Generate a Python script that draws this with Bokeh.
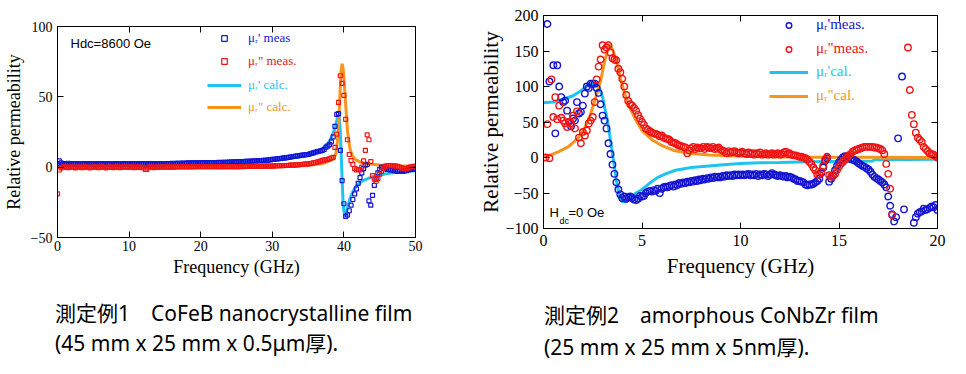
from bokeh.plotting import figure
from bokeh.models import Range1d, LinearAxis, FixedTicker, Label, Legend, LegendItem, Div
from bokeh.layouts import row, column
from bokeh.embed import file_html
from bokeh.resources import INLINE

nan = float("nan")

# ---------------- Chart 1 : CoFeB nanocrystalline film ----------------
F1 = [i * 0.25 for i in range(201)]  # measurement frequencies, GHz
MU1_RE_MEAS = [
    2.5, 4.5, 3.0, 2.0, 2.5, 2.2, 2.8, 2.4, 2.3, 2.5, 2.4, 2.3, 2.5, 2.4, 2.3, 2.5, 2.4, 2.3, 2.5, 2.4,
    2.4, 2.3, 2.5, 2.4, 2.3, 2.5, 2.4, 2.3, 2.5, 2.4, 2.4, 2.3, 2.5, 2.4, 2.3, 2.5, 2.4, 2.3, 2.5, 2.4,
    2.3, 2.4, 2.5, 2.3, 2.4, 2.5, 2.3, 2.4, 2.5, 2.3, 2.4, 2.5, 2.3, 2.4, 2.5, 2.3, 2.4, 2.5, 2.4, 2.5,
    2.5, 2.6, 2.5, 2.6, 2.7, 2.6, 2.7, 2.8, 2.7, 2.8, 2.9, 2.8, 2.9, 3.0, 2.9, 3.0, 3.1, 3.0, 3.0, 3.1,
    3.1, 3.1, 3.2, 3.1, 3.2, 3.2, 3.3, 3.2, 3.3, 3.3, 3.4, 3.3, 3.4, 3.4, 3.5, 3.5, 3.6, 3.6, 3.7, 3.7,
    3.8, 3.8, 3.9, 3.9, 4.0, 4.1, 4.1, 4.2, 4.3, 4.3, 4.4, 4.5, 4.6, 4.6, 4.7, 4.8, 4.9, 5.0, 5.1, 5.2,
    5.5, 5.6, 5.8, 5.9, 6.1, 6.2, 6.4, 6.6, 6.8, 7.0, 7.2, 7.4, 7.6, 7.8, 8.0, 8.2, 8.4, 8.6, 8.8, 8.9,
    9.0, 9.4, 9.8, 10.2, 10.6, 11.0, 11.3, 11.6, 12.0, 12.6, 14.2, 15.0, 16.0, 18.0, 21.5, 29.0, 37.5, 38.0, 12.0, -9.5,
    -26.0, -35.0, -34.0, -31.0, -27.0, -23.0, -19.0, -15.5, -11.5, -7.5, -4.0, -1.0, 1.5, 2.0, -24.0, -27.0, -20.0, -13.0, -8.5, -4.0,
    -1.5, 0.0, -0.5, -1.0, -1.5, -1.5, -2.0, -2.0, -2.5, -2.5, -3.0, -3.0, -3.0, -3.0, -2.5, -2.5, -2.0, -1.5, -1.5, -1.0,
    -1.0,
]
MU1_IM_MEAS = [
    -19.0, -2.0, -0.5, 0.0, 0.2, 0.0, -0.3, 0.0, 0.2, 0.0, -0.5, 0.0, 0.2, 0.0, -0.3, 0.0, 0.2, 0.0, -0.5, 0.0,
    0.0, 0.2, 0.0, -0.3, 0.0, 0.2, 0.0, -0.5, 0.0, 0.2, 0.0, -0.3, 0.0, 0.2, 0.0, -0.3, 0.0, 0.2, 0.0, 0.0,
    0.0, 0.2, 0.0, -0.3, 0.0, 0.2, 0.0, -0.3, 0.0, -1.5, -1.5, 0.0, 0.2, 0.0, -0.3, 0.0, 0.2, 0.0, 0.0, 0.2,
    0.2, 0.0, 0.2, 0.0, 0.2, 0.0, 0.2, 0.3, 0.2, 0.3, 0.2, 0.3, 0.2, 0.3, 0.2, 0.3, 0.2, 0.3, 0.3, 0.3,
    0.3, 0.3, 0.3, 0.3, 0.3, 0.3, 0.3, 0.3, 0.3, 0.3, 0.3, 0.4, 0.3, 0.4, 0.3, 0.4, 0.4, 0.4, 0.4, 0.4,
    0.4, 0.4, 0.4, 0.5, 0.4, 0.5, 0.5, 0.5, 0.5, 0.5, 0.5, 0.6, 0.6, 0.6, 0.6, 0.7, 0.7, 0.7, 0.8, 0.8,
    0.8, 0.9, 0.9, 1.0, 1.0, 1.1, 1.1, 1.2, 1.2, 1.3, 1.4, 1.4, 1.5, 1.6, 1.7, 1.8, 1.9, 2.0, 2.1, 2.2,
    2.4, 2.6, 2.8, 3.0, 3.3, 3.6, 4.0, 4.4, 4.8, 5.0, 5.3, 5.5, 6.0, 6.5, 7.0, 14.0, 23.5, 46.0, 65.0, 59.5,
    51.0, 34.0, 19.5, 9.0, 4.7, 2.0, -1.0, -2.0, -1.5, -2.0, 0.0, 4.5, 12.0, 23.0, 19.5, 4.0, -6.0, -8.5, -10.0, -8.0,
    -5.0, -3.0, -1.0, 0.5, 1.0, 1.2, 1.2, 1.0, 1.0, 0.8, 0.5, 0.0, -0.5, -0.8, -1.0, -1.0, -0.5, 0.0, 0.3, 0.5,
    0.5,
]
F1_CALC_RE = [0, 5, 10, 15, 20, 25, 28, 30, 32, 34, 35, 36, 37, 37.5, 38, 38.5, 38.8, 39.0, 39.2, 39.35,
              39.5, 39.6, 39.7, 39.8, 39.9, 40.0, 40.1, 40.2, 40.4, 40.6, 40.8, 41.1, 41.4, 41.8, 42.2,
              42.7, 43.5, 44.1, 45, 46.5, 48, 50]
MU1_RE_CALC = [2.5, 2.5, 2.6, 2.8, 3.1, 3.7, 4.3, 5.0, 6.0, 7.6, 8.8, 10.3, 13.0, 15.5, 18.5, 24.0, 29.0,
               33.0, 36.5, 37.5, 25.0, 12.0, -2.0, -15.0, -26.0, -31.0, -34.0, -35.0, -31.0, -27.0, -23.0,
               -19.0, -16.0, -13.0, -11.0, -9.5, -7.8, -6.6, -5.5, -4.2, -3.4, -2.6]
F1_CALC_IM = [0, 10, 20, 25, 30, 32, 34, 35, 36, 37, 37.5, 38, 38.6, 38.9, 39.1, 39.3, 39.45, 39.6, 39.75,
              39.9, 40.05, 40.2, 40.35, 40.5, 40.7, 40.9, 41.2, 41.6, 42.2, 43, 44, 45, 46, 47.5, 50]
MU1_IM_CALC = [0.0, 0.1, 0.2, 0.3, 0.5, 0.7, 1.0, 1.3, 1.8, 2.6, 3.5, 4.5, 6.0, 10.0, 19.0, 33.0, 52.0, 68.0,
               73.5, 70.0, 60.0, 48.0, 37.0, 26.0, 18.0, 12.0, 8.0, 5.5, 3.8, 2.8, 2.0, 1.6, 1.3, 1.0, 0.6]
X1_TICKS = [0, 10, 20, 30, 40, 50]
Y1_TICKS = [-50, 0, 50, 100]
CAPTION1 = ["測定例1\u3000CoFeB nanocrystalline film", "(45 mm x 25 mm x 0.5μm厚)."]

# ---------------- Chart 2 : amorphous CoNbZr film ----------------
F2 = [i / 10 for i in range(1, 201)]  # measurement frequencies, GHz
MU2_RE_MEAS = [
    nan, 188, 107, nan, 130, 34, 130, 100, 85, 78, 80, 66, 50, 44, 55, 52, 78, 62, 64, 73,
    90, 100, 98, 104, 104, 104, 98, 91, 75, 59, 52, 41, 20, 5, -10, -23, -35, -45, -52, -57,
    -55, -58, -56, -55, -57, -59, -60, -58, -54, -55, -54, -50, -48, -47, -48, -46, -47, -44, -50, -44,
    -42, -41, -42, -40, -39, -41, -38, -39, -36, -37, -35, -36, -34, -35, -33, -34, -32, -33, -31, -32,
    -30, -31, -29, -30, -28, -29, -27, -28, -27, -28, -26, -27, -25, -26, -25, -26, -24, -25, -24, -25,
    -24, -25, -24, -23, -25, -24, -25, -23, -26, -24, -25, -23, -24, -26, -24, -22, -24, -25, -26, -25,
    -26, -27, -26, -28, -27, -28, -30, -31, -33, -33, -34, -35, -38, -39, -38, -38, -37, -35, -33, -30,
    -22, -14, -5, -1, -34, -30, -25, -18, -12, -7, -3, 0, 2, 1, 0, -2, -3, -4, -6, -8,
    -10, -12, -13, -15, -17, -20, -24, -27, -29, -31, -33, -35, -38, -42, -55, -68, -80, -90, -84, 27,
    nan, 114, -73, nan, nan, nan, nan, -92, -84, -79, -77, -76, -72, -74, -73, -71, -69, -70, -67, -74,
]
MU2_IM_MEAS = [
    0, 47, -1, 110, 57, 85, 54, 73, 56, 52, 48, 43, 50, 48, 59, 41, 65, 28, 20, 36,
    31, 38, 48, 52, 57, 78, 110, 128, 138, 158, 152, 155, 158, 148, 140, 138, 137, 125, 120, 111,
    100, 88, 80, 75, 73, 70, 66, 60, 55, 50, 46, 41, 39, 37, 35, 34, 33, 32, 30, 31,
    28, 27, 26, 25, 22, 21, 20, 18, 17, 16, 15, 14, 6, 10, 13, 15, 12, 14, 13, 13,
    15, 12, 15, 14, 13, 15, 12, 13, 14, 11, 10, 8, 6, 9, 7, 8, 9, 7, 6, 7,
    8, 6, 5, 7, 5, 6, 4, 6, 5, 7, 4, 5, 6, 4, 5, 6, 4, 5, 6, 4,
    5, 7, 8, 5, 6, 4, 3, 3, 2, 1, 1, 0, -1, -3, -6, -9, -14, -18, -24, -24,
    -20, -12, -3, 1, -25, -27, -26, -23, -18, -13, -9, -6, -3, 0, 3, 5, 8, 10, 11, 12,
    13, 14, 15, 15, 15, 15, 15, 14, 14, 13, 12, 10, 5, -9, -23, -44, -81, nan, nan, nan,
    nan, nan, nan, nan, 155, 95, 60, 47, 35, 28, 25, 22, 15, 12, 9, 6, 5, 4, 2, 0,
]
F2_CALC_RE = [0, 0.5, 1.0, 1.5, 1.9, 2.25, 2.5, 2.7, 2.85, 3.0, 3.1, 3.2, 3.3, 3.45, 3.6, 3.75, 3.9, 4.0,
              4.2, 4.45, 4.7, 5.0, 5.4, 5.8, 6.2, 6.7, 7.5, 8.4, 9.3, 10, 11, 12, 13.4, 15, 16.7, 16.8, 20]
MU2_RE_CALC = [77, 78, 82, 87, 94, 101.5, 104, 103, 97, 85, 71, 58, 43, 15, -13, -41, -58, -62.5, -62, -56,
               -50, -45, -36, -28, -23, -18, -14, -12, -10, -8.5, -7.5, -7, -6, -5.5, -5, -3, -2.5]
F2_CALC_IM = [0, 0.4, 0.75, 1.25, 1.75, 2.1, 2.4, 2.6, 2.9, 3.1, 3.3, 3.4, 3.5, 3.7, 3.9, 4.1, 4.35, 4.7,
              5.0, 5.5, 6.0, 6.6, 7.5, 8.4, 10, 12, 14, 16, 20]
MU2_IM_CALC = [0.8, 4, 8, 15, 27, 42, 62, 80, 108, 135, 157, 158, 152, 137, 112, 92, 72, 52, 38, 25, 17,
               10, 5.5, 3.6, 1.8, 0.8, 0.5, 0.3, 0.0]
X2_TICKS = [0, 5, 10, 15, 20]
Y2_TICKS = [-100, -50, 0, 50, 100, 150, 200]
CAPTION2 = ["測定例2\u3000amorphous CoNbZr film", "(25 mm x 25 mm x 5nm厚)."]

# ---------------- styling ----------------
BLUE = "#1414d2"
RED = "#f01414"
CYAN = "#1ec3f0"
ORANGE = "#f7941d"
SERIF = "Liberation Serif"
SANS = "Liberation Sans"


def make_fig(fw, fh, xr, yr, borders, xticks, yticks, tick_fs, lab_fs, xstand, ystand):
    l, r, t, b = borders
    p = figure(frame_width=fw, frame_height=fh, x_range=Range1d(*xr), y_range=Range1d(*yr),
               output_backend="svg", toolbar_location=None, frame_align=False,
               min_border_left=l, min_border_right=r, min_border_top=t, min_border_bottom=b,
               x_axis_label="Frequency (GHz)", y_axis_label="Relative permeability")
    p.grid.visible = False
    p.outline_line_color = "black"
    p.outline_line_width = 1
    p.xaxis.ticker = FixedTicker(ticks=xticks)
    p.yaxis.ticker = FixedTicker(ticks=yticks)
    for ax in p.axis:
        ax.major_tick_in = 6
        ax.major_tick_out = 0
        ax.minor_tick_line_color = None
        ax.axis_line_color = "black"
        ax.major_tick_line_color = "black"
        ax.major_label_text_font = SERIF
        ax.major_label_text_font_size = tick_fs
        ax.major_label_text_color = "black"
        ax.axis_label_text_font = SERIF
        ax.axis_label_text_font_size = lab_fs
        ax.axis_label_text_font_style = "normal"
        ax.axis_label_text_color = "black"
    p.xaxis.major_label_standoff = xstand[0]
    p.xaxis.axis_label_standoff = xstand[1]
    p.yaxis.major_label_standoff = ystand[0]
    p.yaxis.axis_label_standoff = ystand[1]
    for ticks, side in ((xticks, "above"), (yticks, "right")):
        ax = LinearAxis(ticker=FixedTicker(ticks=ticks), major_label_text_font_size="0px",
                        major_label_text_color=None,
                        major_tick_in=6, major_tick_out=0, minor_tick_line_color=None,
                        major_label_standoff=0, axis_line_color="black")
        p.add_layout(ax, side)
    return p


def add_legend(p, renderer, text, color, x, y, gw, standoff, fs):
    leg = Legend(items=[LegendItem(label=text, renderers=[renderer])], location=(x, y),
                 border_line_color=None, background_fill_alpha=0, padding=0, margin=0,
                 glyph_width=gw, glyph_height=14, label_height=14, label_standoff=standoff,
                 label_text_font=SERIF, label_text_font_size=fs, label_text_color=color, spacing=0)
    p.add_layout(leg)


def add_text(p, text, x, y, size):
    p.add_layout(Label(x=x, y=y, x_units="screen", y_units="screen", text=text, text_font=SANS,
                       text_font_size=size, text_baseline="middle", text_color="black"))


def caption_div(lines, width, pad_left, pad_top, line_h):
    html = ('<div style="padding:%dpx 0 0 %dpx; margin:0; font-family:\'Noto Sans\',\'Noto Sans CJK JP\',sans-serif;'
            ' font-size:21px; line-height:%dpx; color:#000; white-space:nowrap;">%s</div>'
            % (pad_top, pad_left, line_h, "<br>".join(lines)))
    return Div(text=html, width=width, height=84, margin=0)


# ---------- figure 1 ----------
p1 = make_fig(358, 211, (0, 50), (-50, 100), (57, 61, 26, 53), X1_TICKS, Y1_TICKS, "14px", "18px",
              (3, 3), (5, 4))
c1 = p1.line(F1_CALC_RE, MU1_RE_CALC, line_color=CYAN, line_width=3)
o1 = p1.line(F1_CALC_IM, MU1_IM_CALC, line_color=ORANGE, line_width=3)
b1 = p1.scatter(F1, MU1_RE_MEAS, marker="square", size=4, fill_color=None, line_color=BLUE, line_width=1.2)
r1 = p1.scatter(F1, MU1_IM_MEAS, marker="square", size=4, fill_color=None, line_color=RED, line_width=1.2)
add_legend(p1, b1, "μᵣ' meas", BLUE, 150, 191, 34, 7, "13px")
add_legend(p1, r1, 'μᵣ" meas.', RED, 150, 168, 34, 7, "13px")
add_legend(p1, c1, "μᵣ' calc.", CYAN, 150, 144, 34, 7, "13px")
add_legend(p1, o1, 'μᵣ" calc.', ORANGE, 150, 122, 34, 7, "13px")
add_text(p1, "Hdc=8600 Oe", 13, 194, "13px")

# ---------- figure 2 ----------
p2 = make_fig(394, 213, (0, 20), (-100, 200), (66, 22, 15, 62), X2_TICKS, Y2_TICKS, "16px", "21px",
              (6, 5), (5, -1))
c2 = p2.line(F2_CALC_RE, MU2_RE_CALC, line_color=CYAN, line_width=3)
o2 = p2.line(F2_CALC_IM, MU2_IM_CALC, line_color=ORANGE, line_width=3)
b2 = p2.scatter(F2, MU2_RE_MEAS, marker="circle", size=6.5, fill_color=None, line_color=BLUE, line_width=1.4)
r2 = p2.scatter(F2, MU2_IM_MEAS, marker="circle", size=6.5, fill_color=None, line_color=RED, line_width=1.4)
add_legend(p2, b2, "μᵣ'meas.", BLUE, 226, 195, 39, 8, "15px")
add_legend(p2, r2, 'μᵣ"meas.', RED, 226, 171, 39, 8, "15px")
add_legend(p2, c2, "μᵣ'cal.", CYAN, 226, 148, 39, 8, "15px")
add_legend(p2, o2, 'μᵣ"cal.', ORANGE, 226, 124, 39, 8, "15px")
add_text(p2, "H", 6, 16, "13px")
add_text(p2, "dc", 16, 8, "9px")
add_text(p2, "=0 Oe", 25, 16, "13px")

d1 = caption_div(CAPTION1, 476, 55, 8, 30)
d2 = caption_div(CAPTION2, 482, 68, 9, 32)

layout = column(row(p1, p2), row(d1, d2))
open("out.html", "w").write(file_html(layout, INLINE))
